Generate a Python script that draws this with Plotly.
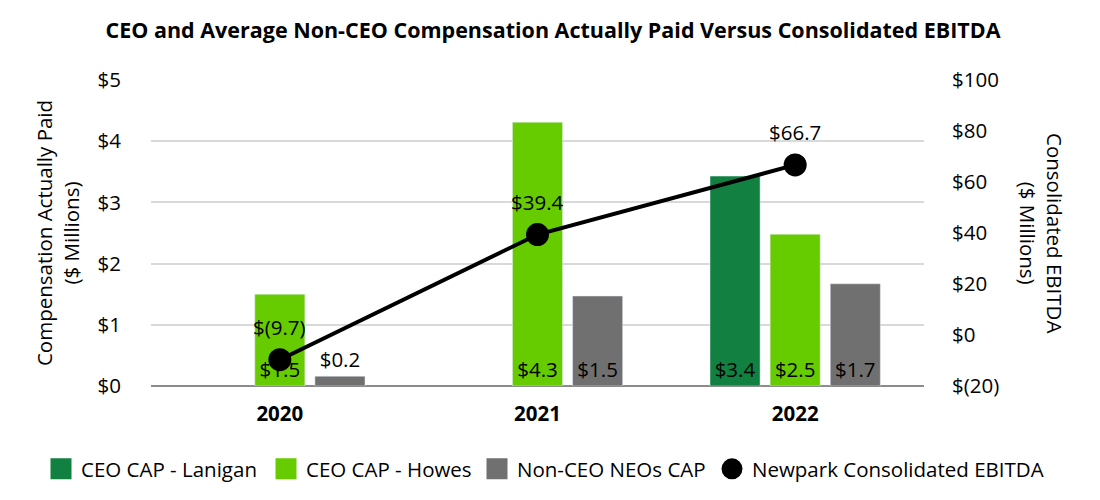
import plotly.graph_objects as go

years = ["2020", "2021", "2022"]
lanigan = [None, None, 3.43]
howes = [1.50, 4.31, 2.48]
non_ceo = [0.16, 1.47, 1.67]
ebitda = [-9.7, 39.4, 66.7]

lanigan_txt = ["", "", "$3.4"]
howes_txt = ["$1.5", "$4.3", "$2.5"]
non_ceo_txt = ["$0.2", "$1.5", "$1.7"]
ebitda_txt = ["$(9.7)", "$39.4", "$66.7"]

left_ticks = [0, 1, 2, 3, 4, 5]
left_labels = ["$0", "$1", "$2", "$3", "$4", "$5"]
right_ticks = [-20, 0, 20, 40, 60, 80, 100]
right_labels = ["$(20)", "$0", "$20", "$40", "$60", "$80", "$100"]

FONT = "Open Sans, sans-serif"
FS = 20.5
C_LAN = "#118040"
C_HOW = "#66CC00"
C_GRAY = "#707070"
OFF = 8  # page offset of the figure inside the browser window

fig = go.Figure()
bar_text = dict(size=FS, color="black", family=FONT)
fig.add_trace(go.Bar(x=years, y=lanigan, name="CEO CAP - Lanigan", marker_color=C_LAN,
                     text=lanigan_txt, textposition="inside", insidetextanchor="start",
                     textfont=bar_text, showlegend=False, cliponaxis=False))
fig.add_trace(go.Bar(x=years, y=howes, name="CEO CAP - Howes", marker_color=C_HOW,
                     text=howes_txt, textposition="inside", insidetextanchor="start",
                     textfont=bar_text, showlegend=False, cliponaxis=False))
fig.add_trace(go.Bar(x=years, y=non_ceo, name="Non-CEO NEOs CAP", marker_color=C_GRAY,
                     text=non_ceo_txt, textposition=["outside", "inside", "inside"],
                     insidetextanchor="start", textfont=bar_text,
                     showlegend=False, cliponaxis=False))
fig.add_trace(go.Scatter(x=years, y=ebitda, yaxis="y2", mode="lines+markers",
                         name="Newpark Consolidated EBITDA", showlegend=False,
                         line=dict(color="black", width=4),
                         marker=dict(color="black", size=23), cliponaxis=False))

legend_items = [
    ("CEO CAP - Lanigan", C_LAN, "square", "legend"),
    ("CEO CAP - Howes", C_HOW, "square", "legend2"),
    ("Non-CEO NEOs CAP", C_GRAY, "square", "legend3"),
    ("Newpark Consolidated EBITDA", "black", "circle", "legend4"),
]
for name, col, sym, lg in legend_items:
    fig.add_trace(go.Scatter(x=[None], y=[None], mode="markers", name=name, legend=lg,
                             marker=dict(color=col, symbol=sym, size=16,
                                         line=dict(color=col, width=5))))

text_starts = [81, 306, 517, 752]
legends = {}
for (name, col, sym, lg), xs in zip(legend_items, text_starts):
    legends[lg] = dict(orientation="h", x=(xs - 40 - OFF) / 1100, xanchor="left",
                       xref="container", y=1 - (469 - OFF) / 500, yanchor="middle",
                       yref="container", font=dict(size=FS, family=FONT), itemwidth=30,
                       bgcolor="rgba(0,0,0,0)")

annots = [dict(text=t, x=i, y=yv, xref="x", yref="y2", yshift=33, showarrow=False,
               font=dict(size=FS, family=FONT, color="black"))
          for i, (yv, t) in enumerate(zip(ebitda, ebitda_txt))]
annots.append(dict(text="Consolidated EBITDA<br>($ Millions)", textangle=90,
                   xref="paper", yref="paper", x=1.0, xanchor="center", xshift=118,
                   y=0.5, yanchor="middle", showarrow=False,
                   font=dict(size=FS, family=FONT)))

fig.update_layout(
    width=1100, height=500,
    margin=dict(l=151 - OFF, r=176 + OFF, t=80 - OFF, b=114 + OFF, autoexpand=False),
    paper_bgcolor="white", plot_bgcolor="white",
    font=dict(family=FONT, size=FS, color="black"),
    title=dict(text="<b>CEO and Average Non-CEO Compensation Actually Paid Versus Consolidated EBITDA</b>",
               x=(553 - OFF) / 1100, xref="container", xanchor="center",
               y=1 - (30 - OFF) / 500, yanchor="middle",
               font=dict(size=21.5, family=FONT)),
    barmode="group", bargap=0.30, bargroupgap=0.167,
    xaxis=dict(type="category", tickfont=dict(size=FS, family=FONT), tickvals=years,
               ticktext=["<b>2020</b>", "<b>2021</b>", "<b>2022</b>"],
               range=[-0.5, len(years) - 0.5],
               showline=False, showgrid=False, ticks="", ticklabelstandoff=13),
    yaxis=dict(range=[0, 5], tickvals=left_ticks, ticktext=left_labels,
               showgrid=True, gridcolor="#D9D9D9", gridwidth=1.5,
               zeroline=True, zerolinecolor="#8C8C8C", zerolinewidth=2,
               ticks="", ticklabelstandoff=29,
               title=dict(text="Compensation Actually Paid<br>($ Millions)", standoff=12,
                          font=dict(size=FS, family=FONT))),
    yaxis2=dict(range=[-20, 100], tickvals=right_ticks, ticktext=right_labels,
                overlaying="y", side="right", showgrid=False, zeroline=False,
                ticks="", ticklabelstandoff=27),
    annotations=annots,
    **legends,
)

fig.write_html("out.html")
